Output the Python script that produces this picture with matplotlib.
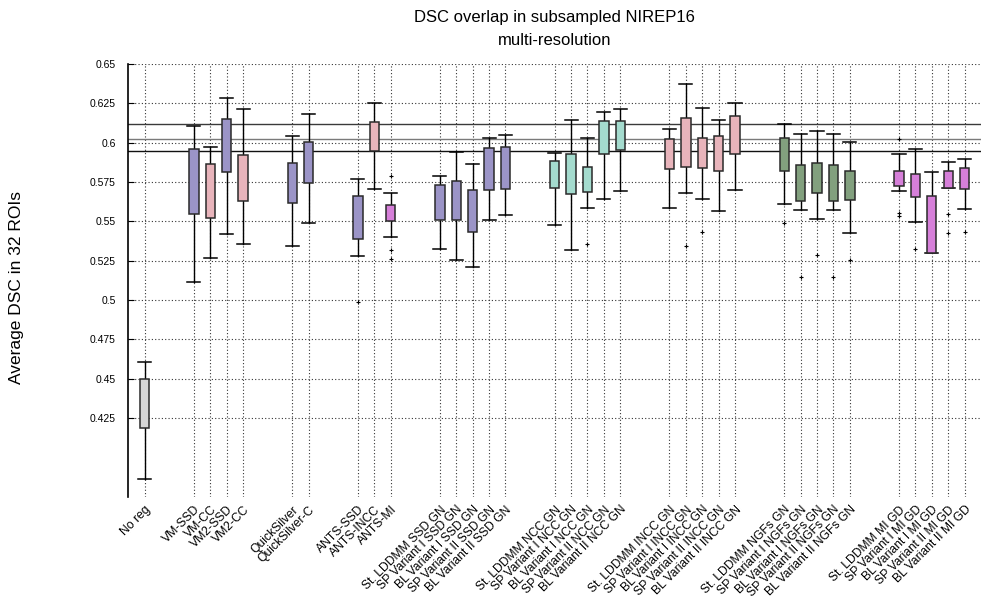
import matplotlib.pyplot as plt

plt.rcParams['font.family'] = ['Liberation Sans', 'DejaVu Sans']

# box labels, in drawing order
labels = [
    "No reg",
    "VM-SSD", "VM-CC", "VM2-SSD", "VM2-CC",
    "QuickSilver", "QuickSilver-C",
    "ANTS-SSD", "ANTS-INCC", "ANTS-MI",
    "St. LDDMM SSD GN", "SP Variant I SSD GN", "BL Variant I SSD GN",
    "SP Variant II SSD GN", "BL Variant II SSD GN",
    "St. LDDMM NCC GN", "SP Variant I NCC GN", "BL Variant I NCC GN",
    "SP Variant II NCC GN", "BL Variant II NCC GN",
    "St. LDDMM INCC GN", "SP Variant I INCC GN", "BL Variant I INCC GN",
    "SP Variant II INCC GN", "BL Variant II INCC GN",
    "St. LDDMM NGFs GN", "SP Variant I NGFs GN", "BL Variant I NGFs GN",
    "SP Variant II NGFs GN", "BL Variant II NGFs GN",
    "St. LDDMM MI GD", "SP Variant I MI GD", "BL Variant I MI GD",
    "SP Variant II MI GD", "BL Variant II MI GD",
]
group_sizes = [1, 4, 2, 3, 5, 5, 5, 5, 5]
metric = [
    "none",
    "ssd", "cc", "ssd", "cc",
    "ssd", "ssd",
    "ssd", "cc", "mi",
    "ssd", "ssd", "ssd", "ssd", "ssd",
    "ncc", "ncc", "ncc", "ncc", "ncc",
    "cc", "cc", "cc", "cc", "cc",
    "ngf", "ngf", "ngf", "ngf", "ngf",
    "mi", "mi", "mi", "mi", "mi",
]

# box statistics
whislo = [0.386,
          0.5116, 0.5267, 0.5421, 0.5354,
          0.5345, 0.5489,
          0.5279, 0.5703, 0.5400,
          0.5324, 0.5252, 0.5210, 0.5506, 0.5542,
          0.5474, 0.5318, 0.5582, 0.5640, 0.5695,
          0.5582, 0.5682, 0.5640, 0.5566, 0.5697,
          0.5608, 0.5572, 0.5513, 0.5572, 0.5428,
          0.5691, 0.5496, 0.5296, 0.5710, 0.5578]
q1 = [0.4188,
      0.5544, 0.5519, 0.5813, 0.5629,
      0.5614, 0.5743,
      0.5390, 0.5945, 0.5500,
      0.5510, 0.5506, 0.5432, 0.5699, 0.5703,
      0.5712, 0.5674, 0.5686, 0.5928, 0.5951,
      0.5835, 0.5847, 0.5837, 0.5820, 0.5926,
      0.5818, 0.5629, 0.5682, 0.5629, 0.5635,
      0.5724, 0.5653, 0.5296, 0.5714, 0.5703]
med = [0.4370,
       0.5866, 0.5746, 0.6042, 0.5877,
       0.5794, 0.5928,
       0.5557, 0.6025, 0.5536,
       0.5614, 0.5659, 0.5635, 0.5856, 0.5847,
       0.5754, 0.5820, 0.5790, 0.6008, 0.5999,
       0.5900, 0.6008, 0.5951, 0.5909, 0.6044,
       0.5864, 0.5773, 0.5835, 0.5773, 0.5756,
       0.5765, 0.5735, 0.5428, 0.5767, 0.5784]
q3 = [0.4500,
      0.5962, 0.5864, 0.6152, 0.5923,
      0.5871, 0.6002,
      0.5659, 0.6129, 0.5604,
      0.5733, 0.5758, 0.5699, 0.5968, 0.5974,
      0.5881, 0.5928, 0.5845, 0.6138, 0.6136,
      0.6021, 0.6159, 0.6028, 0.6044, 0.6171,
      0.6030, 0.5856, 0.5873, 0.5856, 0.5820,
      0.5822, 0.5801, 0.5663, 0.5820, 0.5839]
whishi = [0.4604,
          0.6106, 0.5974, 0.6286, 0.6214,
          0.6044, 0.6184,
          0.5769, 0.6254, 0.5678,
          0.5790, 0.5939, 0.5862, 0.6032, 0.6051,
          0.5934, 0.6142, 0.6030, 0.6193, 0.6214,
          0.6089, 0.6373, 0.6220, 0.6146, 0.6252,
          0.6116, 0.6055, 0.6072, 0.6055, 0.6006,
          0.5930, 0.5960, 0.5813, 0.5879, 0.5898]
fliers = [[],
          [], [], [], [],
          [], [],
          [0.4985], [], [0.5788, 0.5315, 0.5260],
          [], [], [], [], [],
          [], [], [0.5356], [], [],
          [], [0.5345], [0.5432], [], [],
          [0.5487], [0.5146], [0.5288], [0.5146], [0.5254],
          [0.6025, 0.5555, 0.5532], [0.5324], [], [0.5544, 0.5426], [0.5434]]

# reference levels drawn across the plot
ref_levels = [0.6119, 0.6023, 0.5947]
ref_colors = ['#3a3a3a', '#7a7a7a', '#111111']

colors = {
    "none": "#d6d6d6",
    "ssd": "#9b94c7",
    "cc": "#e8b4bb",
    "ncc": "#a4dbce",
    "ngf": "#82a07e",
    "mi": "#d67fd9",
}

# positions: groups separated by two empty slots
positions = []
p = 1
for g in group_sizes:
    positions.extend(range(p, p + g))
    p += g + 2

stats = []
for i in range(len(labels)):
    stats.append(dict(whislo=whislo[i], q1=q1[i], med=med[i], q3=q3[i],
                      whishi=whishi[i], fliers=fliers[i]))

fig = plt.figure(figsize=(9.82, 6.03), dpi=100)
ax = fig.add_axes([0.1307, 0.1763, 0.8683, 0.7176])

for y, c in zip(ref_levels, ref_colors):
    ax.axhline(y, color=c, lw=1.0, zorder=1)

bp = ax.bxp(stats, positions=positions, widths=0.57, capwidths=0.8,
            patch_artist=True, showfliers=True,
            boxprops=dict(edgecolor='#2a2a2a', linewidth=1.1),
            medianprops=dict(color='#2a2a2a', linewidth=1.1),
            whiskerprops=dict(color='black', linewidth=1.0),
            capprops=dict(color='black', linewidth=1.1),
            flierprops=dict(marker='+', markersize=3, markeredgecolor='black',
                            markeredgewidth=0.8))
for box, m in zip(bp['boxes'], metric):
    box.set_facecolor(colors[m])
    box.set_zorder(3)

ax.set_xlim(0, 52)
ax.set_ylim(0.375, 0.65)
ax.set_yticks([0.425, 0.45, 0.475, 0.5, 0.525, 0.55, 0.575, 0.6, 0.625, 0.65])
ax.set_yticklabels(['0.425', '0.45', '0.475', '0.5', '0.525', '0.55', '0.575',
                    '0.6', '0.625', '0.65'], fontsize=7.5)
ax.set_xticks(positions)
ax.set_xticklabels(labels, rotation=45, ha='right', rotation_mode='anchor',
                   fontsize=8.7)
ax.tick_params(axis='y', direction='in', length=4, pad=9)
ax.tick_params(axis='x', length=0, pad=5)
ax.grid(True, linestyle=(0, (1, 2)), color='#333333', linewidth=0.8)
ax.set_axisbelow(True)
for s in ['top', 'right', 'bottom']:
    ax.spines[s].set_visible(False)
ax.spines['left'].set_linewidth(1.2)

ax.set_title("DSC overlap in subsampled NIREP16\nmulti-resolution",
             fontsize=12, pad=14, linespacing=1.6)
fig.text(0.0165, 0.524, "Average DSC in 32 ROIs", rotation=90,
         va='center', ha='center', fontsize=12.5)

fig.savefig("out.png", dpi=100)
